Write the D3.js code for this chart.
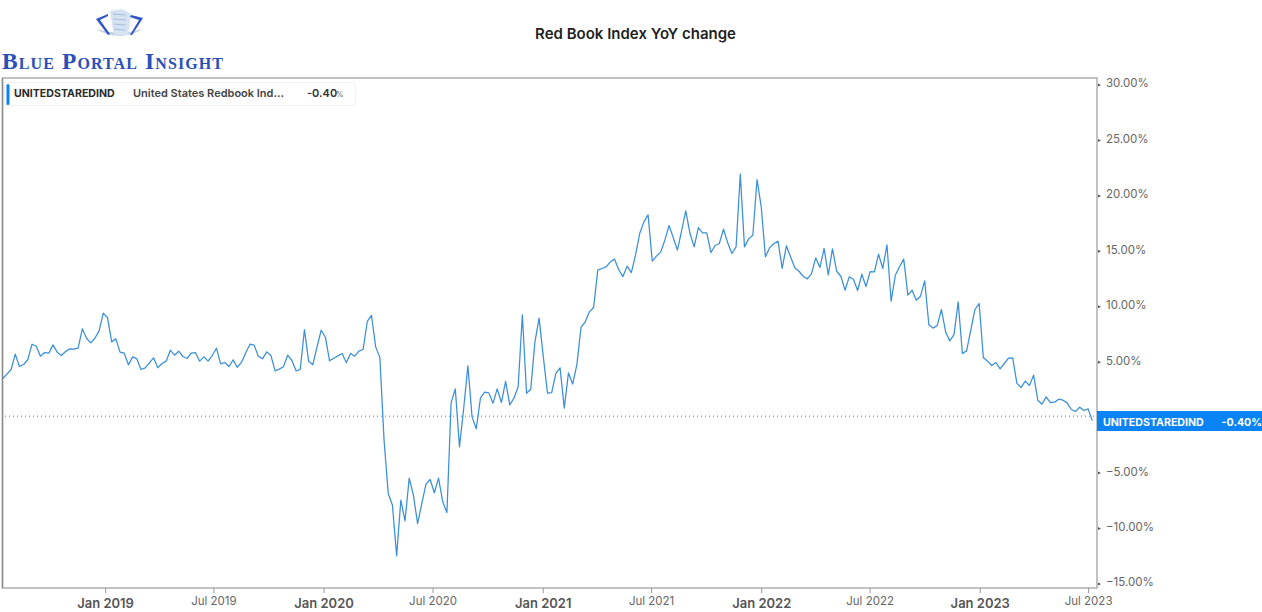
<!DOCTYPE html>
<html><head><meta charset="utf-8">
<script src="https://cdn.jsdelivr.net/npm/d3@7/dist/d3.min.js"></script>
<style>html,body{margin:0;padding:0;background:#fff;overflow:hidden}svg{display:block}text{font-family:Inter,"Liberation Sans",sans-serif}</style>
</head><body><svg id="c" width="1262" height="612"></svg>
<script>
const chartTitle = "Red Book Index YoY change";
const brandName = "Blue Portal Insight";
const seriesCode = "UNITEDSTAREDIND";
const seriesName = "United States Redbook Ind...";
const lastLabel = "-0.40";
const firstDate = "2018-07-14";
const yoyValues = [
3.40,3.79,4.21,5.59,4.48,4.66,5.11,6.49,6.31,5.41,5.74,5.68,6.43,5.77,5.47,5.83,6.07,6.04,6.13,7.88,
7.03,6.61,7.03,7.69,9.29,8.90,6.70,6.97,5.77,5.68,4.63,5.35,5.17,4.21,4.36,4.81,5.26,4.36,4.75,4.96,
5.95,5.50,5.86,5.38,5.20,5.68,5.74,4.96,5.35,4.96,5.47,6.13,4.72,4.84,4.48,5.08,4.39,4.87,5.71,6.49,
6.40,5.41,5.17,5.80,5.47,4.09,4.24,4.45,5.50,5.02,4.09,4.21,7.81,4.96,4.63,6.25,7.75,7.12,4.99,5.23,
5.44,5.65,4.81,5.65,5.41,5.86,6.01,8.54,9.08,6.25,5.29,-2.16,-6.97,-8.03,-12.59,-7.57,-9.44,-5.59,-7.12,-9.68,
-7.88,-6.13,-5.71,-6.91,-5.59,-7.72,-8.69,
1.20,2.46,-2.77,0.69,4.54,-0.06,-1.14,1.62,2.16,2.10,1.17,2.46,1.23,3.13,1.02,1.62,2.65,9.14,2.07,2.43,
6.70,8.84,5.35,2.07,2.13,3.85,4.36,0.72,3.91,2.89,4.63,8.00,8.51,9.41,9.80,13.17,13.32,13.47,13.92,14.16,
13.20,12.59,13.53,12.95,14.52,16.47,17.52,18.15,13.98,14.43,14.79,15.87,17.19,16.11,14.97,16.71,18.52,16.47,15.27,17.01,
16.53,16.53,14.76,15.39,15.57,16.86,15.63,14.67,15.27,21.82,15.27,15.99,16.32,21.34,18.88,14.37,15.18,15.57,15.78,13.32,
15.36,14.37,13.38,13.07,12.62,12.38,12.86,14.28,13.41,
15.12,12.74,15.09,13.07,12.62,11.36,12.56,12.35,11.33,12.80,11.69,13.04,13.01,14.61,13.32,15.45,10.37,12.71,13.47,14.16,
10.91,11.36,10.46,10.82,12.20,8.24,7.94,8.18,9.62,7.60,6.79,7.36,10.31,5.65,5.89,7.75,9.62,10.16,5.29,4.96,
4.57,4.84,4.27,4.75,5.23,5.26,2.98,2.58,3.16,2.77,3.70,1.44,1.08,1.74,1.23,1.26,1.53,1.44,1.20,0.60,
0.42,0.81,0.51,0.66,-0.40];
const yTicks = [30,25,20,15,10,5,-5,-10,-15];
const xTickDates = ["2019-01-01","2019-07-01","2020-01-01","2020-07-01","2021-01-01","2021-07-01","2022-01-01","2022-07-01","2023-01-01","2023-07-01"];

const blue = "#0a84f5", line = "#3a8fd8", frame = "#a8a8a8";
const svg = d3.select("#c");
const P = {l:2.5, r:1097, t:78, b:588};
const start = new Date(firstDate+"T00:00:00Z");
const dates = yoyValues.map((_,i)=>d3.utcDay.offset(start,i*7));
const x = d3.scaleUtc().domain([dates[0],dates[dates.length-1]]).range([2.7,1092.3]);
const y = d3.scaleLinear().domain([-15,30]).range([582.5,83.5]);
const fmtX = d3.utcFormat("%b %Y");

// Brand
const logo = svg.append("g");
logo.append("path").attr("d","M96 29 Q119 43 143 29 Q119 36 96 29Z").attr("fill","#c3d0e4");
logo.append("path").attr("d","M110 11 L122 9 L131 14 L128 35 L114 36 Z").attr("fill","#d5e2f2");
logo.append("path").attr("d","M113 14 L126 15 M113 19 L126 20 M114 24 L126 25 M114 29 L125 30").attr("stroke","#a9bfdc").attr("fill","none");
logo.append("path").attr("d","M96 19 L108 14 L108 16 L100 20 L110 34 L108 35 Z").attr("fill","#2f56c4");
logo.append("path").attr("d","M143 18 L131 15 L130 17 L139 20 L130 35 L132 35 Z").attr("fill","#2f56c4");
svg.append("text").attr("x",2).attr("y",69).text(brandName)
  .style("font-family","'Liberation Serif',serif").style("font-variant","small-caps")
  .style("font-weight",700).style("font-size","23.5px").style("letter-spacing","1.1px").attr("fill","#2a50b8");

// Title
svg.append("text").attr("x",635.5).attr("y",39).attr("text-anchor","middle").text(chartTitle)
  .style("font-size","15px").style("font-weight",600).attr("fill","#1f1f1f");

// Frame
svg.append("rect").attr("x",P.l).attr("y",P.t).attr("width",P.r-P.l).attr("height",P.b-P.t)
  .attr("fill","#fff").attr("stroke",frame).attr("stroke-width",1.4);
svg.append("line").attr("x1",P.l).attr("x2",P.l).attr("y1",P.t).attr("y2",P.b).attr("stroke","#8a8a8a").attr("stroke-width",1.4);

// Zero line
svg.append("line").attr("x1",5).attr("x2",P.r).attr("y1",y(0)).attr("y2",y(0))
  .attr("stroke","#777").attr("stroke-width",1).attr("stroke-dasharray","1 3");

// Series
svg.append("path").datum(yoyValues)
  .attr("d",d3.line().x((d,i)=>x(dates[i])).y(d=>y(d)))
  .attr("fill","none").attr("stroke",line).attr("stroke-width",1.25).attr("stroke-linejoin","round");

// X axis
const xAxis = svg.append("g").attr("transform",`translate(0,${P.b})`)
  .call(d3.axisBottom(x).tickValues(xTickDates.map(d=>new Date(d+"T00:00:00Z"))).tickFormat(fmtX).tickSize(5).tickPadding(5));
xAxis.select(".domain").remove();
xAxis.selectAll("line").attr("stroke","#999");
xAxis.selectAll("text").each(function(d){
  const jan = d.getUTCMonth()===0;
  d3.select(this).attr("y",jan?10.5:8.5).style("font-size",jan?"13px":"11.5px").style("font-weight",jan?600:400)
    .attr("fill",jan?"#555":"#666");
});

// Y axis
const yAxis = svg.append("g").attr("transform",`translate(${P.r},0)`)
  .call(d3.axisRight(y).tickValues(yTicks).tickFormat(d=>d3.format(".2f")(d)+"%").tickSize(0).tickPadding(9));
yAxis.select(".domain").remove();
yAxis.selectAll("text").style("font-size","11.5px").attr("fill","#666").attr("dy","0.3em");
yAxis.selectAll(".tick").append("path").attr("d","M1 -0.5 L4 1 L1 2.5Z").attr("fill","#555");

// Legend
svg.append("rect").attr("x",4.5).attr("y",82.5).attr("width",351).attr("height",23).attr("rx",3)
  .attr("fill","#fff").attr("stroke","#f0f0f0");
svg.append("rect").attr("x",6.5).attr("y",84).attr("width",3).attr("height",21).attr("rx",1.5).attr("fill",blue);
const lg = svg.append("g").style("font-size","11px").attr("fill","#2b2b2b");
lg.append("text").attr("x",14).attr("y",97).text(seriesCode).style("font-weight",700).style("font-size","10.6px");
lg.append("text").attr("x",133).attr("y",97).text(seriesName).style("font-weight",600).attr("fill","#444").style("font-size","11px");
lg.append("text").attr("x",307).attr("y",97).text(lastLabel).style("font-weight",600).attr("fill","#333");
lg.append("text").attr("x",336).attr("y",97).text("%").style("font-size","7.5px").attr("fill","#666");

// Last value tag
svg.append("rect").attr("x",P.r).attr("y",411).attr("width",1262-P.r).attr("height",20).attr("fill",blue);
svg.append("text").attr("x",1103).attr("y",425.5).text(seriesCode).attr("fill","#fff").style("font-weight",700).style("font-size","10.6px");
svg.append("text").attr("x",1262).attr("y",425.5).attr("text-anchor","end").text(lastLabel+"%").attr("fill","#fff").style("font-weight",700).style("font-size","10.6px");
</script></body></html>
